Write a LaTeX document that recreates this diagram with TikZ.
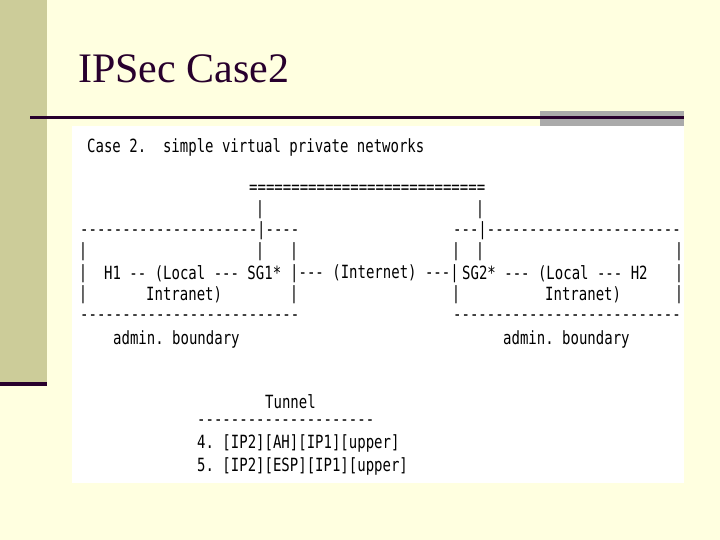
\documentclass[tikz,border=0pt]{standalone}
\usepackage{graphicx}
\usepackage{fontspec}
\setmainfont{Liberation Serif}
\setmonofont{DejaVu Sans Mono}
\definecolor{bg}{RGB}{255,255,224}
\definecolor{barc}{RGB}{204,204,153}
\definecolor{darkp}{RGB}{40,0,45}
\definecolor{grayb}{RGB}{170,170,170}
\newcommand{\tl}[1]{\scalebox{1}[1.3]{#1}}
\tikzset{
  tt/.style={inner sep=0pt,anchor=west,font=\ttfamily\fontsize{14}{14}\selectfont,text=black},
  vb/.style={inner sep=0pt,anchor=center,font=\ttfamily\fontsize{14}{14}\selectfont,text=black}
}
\begin{document}
\begin{tikzpicture}[x=1pt,y=-1pt]
\useasboundingbox (0,0) rectangle (720,540);
\fill[bg] (0,0) rectangle (720,540);
\fill[barc] (0,0) rectangle (47,382);
\fill[darkp] (0,382) rectangle (47,386);
\fill[grayb] (540,111) rectangle (684,126);
\fill[darkp] (30,116.5) rectangle (684,119.5);
\fill[white] (72,126) rectangle (684,483);
\node[inner sep=0pt,anchor=base west,font=\fontsize{42}{42}\selectfont,text=darkp] (title) at (78,83) {IPSec Case2};
% text lines
\node[tt] (l1) at (87,147) {\tl{Case 2.\ \ simple virtual private networks}};
\node[tt] (eq) at (249,189) {\tl{============================}};
\node[vb] (a1) at (260,210) {\tl{|}};
\node[vb] (a2) at (480,210) {\tl{|}};
\node[tt] (d1) at (80,231) {\tl{---------------------|----}};
\node[tt] (d2) at (453,231) {\tl{---|-----------------------}};
\foreach \x [count=\i] in {83,260,294,456,480,679}{\node[vb] (b\i) at (\x,252) {\tl{|}};}
\node[vb] (c1) at (83,274) {\tl{|}};
\node[tt] (h1) at (104,274) {\tl{H1 -- (Local --- SG1*}};
\node[tt] (inet) at (290,274) {\tl{|--- (Internet) ---|}};
\node[tt] (sg2) at (462,274) {\tl{SG2* --- (Local --- H2}};
\node[vb] (c2) at (679,274) {\tl{|}};
\node[vb] (e1) at (83,295) {\tl{|}};
\node[tt] (i1) at (146,295) {\tl{Intranet)}};
\node[vb] (e2) at (294,295) {\tl{|}};
\node[vb] (e3) at (456,295) {\tl{|}};
\node[tt] (i2) at (545,295) {\tl{Intranet)}};
\node[vb] (e4) at (679,295) {\tl{|}};
\node[tt] (f1) at (80,318) {\tl{--------------------------}};
\node[tt] (f2) at (453,318) {\tl{---------------------------}};
\node[tt] (ad1) at (113,339) {\tl{admin. boundary}};
\node[tt] (ad2) at (503,339) {\tl{admin. boundary}};
\node[tt] (tun) at (265,402) {\tl{Tunnel}};
\node[tt] (td) at (197,423) {\tl{---------------------}};
\node[tt] (t4) at (197,443) {\tl{4. [IP2][AH][IP1][upper]}};
\node[tt] (t5) at (197,466) {\tl{5. [IP2][ESP][IP1][upper]}};
\end{tikzpicture}
\end{document}
